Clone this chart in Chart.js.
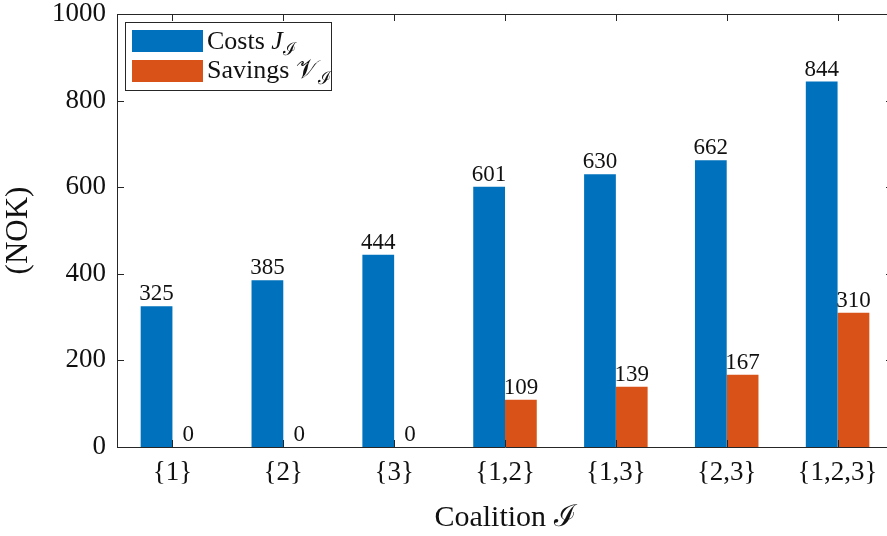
<!DOCTYPE html>
<html>
<head>
<meta charset="utf-8">
<script src="https://cdn.jsdelivr.net/npm/chart.js@4.4.0/dist/chart.umd.min.js"></script>
<style>
    html, body { margin: 0; padding: 0; background: #fff; overflow: hidden; }
    canvas { display: block; }
</style>
</head>
<body>
<canvas id="coalitionChart" width="900" height="536"></canvas>
<script>
// data
var coalitions = ['{1}', '{2}', '{3}', '{1,2}', '{1,3}', '{2,3}', '{1,2,3}'];
var costs = [325, 385, 444, 601, 630, 662, 844];
var savings = [0, 0, 0, 109, 139, 167, 310];
var yTicks = [0, 200, 400, 600, 800, 1000];

var serif = '"Liberation Serif", "DejaVu Serif", serif';
var axisColor = '#262626';
var textColor = '#111';
var blue = '#0072BD';
var orange = '#D95319';

// draws a text made of pieces (italic, subscript) one after another
function drawPieces(ctx, pieces, x, y, size) {
    pieces.forEach(function (p) {
        var s = p.sub ? Math.round(size * 0.7) : size;
        ctx.font = (p.italic ? 'italic ' : '') + s + 'px ' + serif;
        ctx.fillText(p.t, x, p.sub ? y + size * 0.22 : y);
        x += ctx.measureText(p.t).width;
    });
}

// box round the plot with inward ticks on all four sides
var boxPlugin = {
    id: 'boxAxes',
    afterDatasetsDraw: function (chart) {
        var ctx = chart.ctx;
        var a = chart.chartArea;
        var xs = chart.scales.x;
        var ys = chart.scales.y;
        var tl = 7;
        ctx.save();
        ctx.strokeStyle = axisColor;
        ctx.lineWidth = 1;
        ctx.beginPath();
        ctx.rect(Math.round(a.left) + 0.5, Math.round(a.top) + 0.5, Math.round(a.right - a.left), Math.round(a.bottom - a.top));
        for (var i = 0; i < coalitions.length; i++) {
            var px = Math.round(xs.getPixelForValue(i)) + 0.5;
            ctx.moveTo(px, a.bottom);
            ctx.lineTo(px, a.bottom - tl);
            ctx.moveTo(px, a.top);
            ctx.lineTo(px, a.top + tl);
        }
        yTicks.forEach(function (v) {
            var py = Math.round(ys.getPixelForValue(v)) + 0.5;
            ctx.moveTo(a.left, py);
            ctx.lineTo(a.left + tl, py);
            ctx.moveTo(a.right, py);
            ctx.lineTo(a.right - tl, py);
        });
        ctx.stroke();

        // value labels over the bars
        ctx.fillStyle = textColor;
        ctx.font = '23px ' + serif;
        ctx.textAlign = 'center';
        ctx.textBaseline = 'alphabetic';
        chart.data.datasets.forEach(function (ds, di) {
            chart.getDatasetMeta(di).data.forEach(function (el, i) {
                ctx.fillText(String(ds.data[i]), el.x, el.y - 6);
            });
        });

        // legend
        var lx = a.left + 8, ly = a.top + 8;
        ctx.fillStyle = '#fff';
        ctx.fillRect(lx, ly, 206, 68);
        ctx.strokeStyle = axisColor;
        ctx.strokeRect(Math.round(lx) + 0.5, Math.round(ly) + 0.5, 206, 68);
        ctx.fillStyle = blue;
        ctx.fillRect(lx + 7, ly + 8, 71, 22);
        ctx.fillStyle = orange;
        ctx.fillRect(lx + 7, ly + 38, 71, 22);
        ctx.fillStyle = textColor;
        ctx.textAlign = 'left';
        drawPieces(ctx, [{ t: 'Costs ' }, { t: 'J', italic: true }, { t: 'ℐ', sub: true }], lx + 82, ly + 27, 26);
        drawPieces(ctx, [{ t: 'Savings ' }, { t: '𝒱' }, { t: 'ℐ', sub: true }], lx + 82, ly + 56, 26);
        ctx.restore();
    }
};

window.onload = function () {
    var area = document.getElementById('coalitionChart').getContext('2d');
    var coalitionChart = new Chart(area, {
        type: 'bar',
        data: {
            labels: coalitions,
            datasets: [
                {
                    label: 'Costs',
                    data: costs,
                    backgroundColor: blue,
                    borderWidth: 0,
                    categoryPercentage: 0.573,
                    barPercentage: 1
                },
                {
                    label: 'Savings',
                    data: savings,
                    backgroundColor: orange,
                    borderWidth: 0,
                    categoryPercentage: 0.573,
                    barPercentage: 1
                }
            ]
        },
        options: {
            responsive: false,
            animation: false,
            layout: {
                padding: { top: 14, right: 7, left: 0, bottom: 0 }
            },
            scales: {
                x: {
                    type: 'category',
                    offset: true,
                    grid: { display: false, drawTicks: false },
                    border: { display: false },
                    ticks: {
                        color: textColor,
                        font: { family: serif, size: 27 },
                        maxRotation: 0,
                        padding: 10
                    },
                    title: {
                        display: true,
                        text: 'Coalition ℐ',
                        color: textColor,
                        font: { family: serif, size: 30 },
                        padding: { top: 4, bottom: 0 }
                    },
                    afterFit: function (scale) {
                        scale.height = 89;
                        scale.paddingLeft = 0;
                        scale.paddingRight = 0;
                    }
                },
                y: {
                    min: 0,
                    max: 1000,
                    grid: { display: false, drawTicks: false },
                    border: { display: false },
                    ticks: {
                        color: textColor,
                        font: { family: serif, size: 27 },
                        padding: 11,
                        callback: function (value) { return String(value); }
                    },
                    afterBuildTicks: function (axis) {
                        axis.ticks = yTicks.map(function (v) { return { value: v }; });
                    },
                    title: {
                        display: true,
                        text: '(NOK)',
                        color: textColor,
                        font: { family: serif, size: 31 },
                        padding: { top: 0, bottom: 0 }
                    },
                    afterFit: function (scale) {
                        scale.width = 117;
                        scale.paddingTop = 0;
                        scale.paddingBottom = 0;
                    }
                }
            },
            plugins: {
                legend: { display: false },
                tooltip: { enabled: false }
            }
        },
        plugins: [boxPlugin]
    });
}
</script>
</body>
</html>
